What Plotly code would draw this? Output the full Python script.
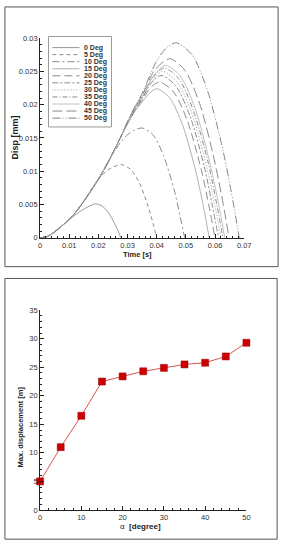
import plotly.graph_objects as go

W, H = 288, 553
FONT = "Liberation Sans, Arial, sans-serif"

# ---------------- data: top panel (Disp [mm] vs Time [s]) ----------------
legend_labels = ["0 Deg", "5 Deg", "10 Deg", "15 Deg", "20 Deg", "25 Deg",
                 "30 Deg", "35 Deg", "40 Deg", "45 Deg", "50 Deg"]

t_0deg = [0, 0.0025, 0.005, 0.0075, 0.01, 0.0125, 0.015, 0.017, 0.019, 0.0212, 0.0234, 0.0255, 0.0268, 0.0277]
d_0deg = [0, 0.0002, 0.0009, 0.0018, 0.0027, 0.0036, 0.0043, 0.0048, 0.0051, 0.0048, 0.0038, 0.0022, 0.0010, 0]

t_5deg = [0, 0.0025, 0.005, 0.0075, 0.01, 0.0125, 0.015, 0.018, 0.021, 0.024, 0.026, 0.028, 0.031, 0.034, 0.037, 0.0388, 0.040]
d_5deg = [0, 0.0002, 0.0009, 0.0018, 0.0028, 0.0040, 0.0055, 0.0076, 0.0093, 0.0104, 0.0108, 0.0110, 0.0103, 0.0083, 0.0048, 0.0021, 0]

t_10deg = [0, 0.0025, 0.005, 0.0075, 0.01, 0.0125, 0.015, 0.0175, 0.02, 0.0225, 0.025, 0.0275, 0.03, 0.0325, 0.035, 0.0387, 0.0423, 0.046, 0.0481, 0.0496]
d_10deg = [0, 0.0002, 0.0009, 0.0018, 0.0028, 0.0040, 0.0055, 0.0071, 0.0088, 0.0107, 0.0126, 0.0143, 0.0155, 0.0162, 0.0165, 0.0155, 0.0124, 0.0072, 0.0031, 0]

t_15deg = [0, 0.0025, 0.005, 0.0075, 0.01, 0.0125, 0.015, 0.0175, 0.02, 0.0225, 0.025, 0.0275, 0.03, 0.0325, 0.035, 0.0375, 0.040, 0.0445, 0.049, 0.0535, 0.0562, 0.058]
d_15deg = [0, 0.0002, 0.0009, 0.0018, 0.0028, 0.0040, 0.0055, 0.0071, 0.0088, 0.0107, 0.0128, 0.0150, 0.0171, 0.0190, 0.0204, 0.0217, 0.0224, 0.0210, 0.0168, 0.0098, 0.0043, 0]

t_20deg = [0, 0.0025, 0.005, 0.0075, 0.01, 0.0125, 0.015, 0.0175, 0.02, 0.0225, 0.025, 0.0275, 0.03, 0.0325, 0.035, 0.038, 0.041, 0.0458, 0.0505, 0.0553, 0.0581, 0.060]
d_20deg = [0, 0.0002, 0.0009, 0.0018, 0.0028, 0.0040, 0.0055, 0.0071, 0.0088, 0.0107, 0.0128, 0.0150, 0.0172, 0.0191, 0.0207, 0.0226, 0.0234, 0.0219, 0.0176, 0.0102, 0.0044, 0]

t_25deg = [0, 0.0025, 0.005, 0.0075, 0.01, 0.0125, 0.015, 0.0175, 0.02, 0.0225, 0.025, 0.0275, 0.03, 0.0325, 0.035, 0.038, 0.0415, 0.0464, 0.0514, 0.0563, 0.0592, 0.0612]
d_25deg = [0, 0.0002, 0.0009, 0.0018, 0.0028, 0.0040, 0.0055, 0.0071, 0.0088, 0.0107, 0.0128, 0.0150, 0.0172, 0.0192, 0.0209, 0.0232, 0.0244, 0.0229, 0.0183, 0.0107, 0.0046, 0]

t_30deg = [0, 0.0025, 0.005, 0.0075, 0.01, 0.0125, 0.015, 0.0175, 0.02, 0.0225, 0.025, 0.0275, 0.03, 0.0325, 0.035, 0.0385, 0.042, 0.047, 0.052, 0.057, 0.060, 0.062]
d_30deg = [0, 0.0002, 0.0009, 0.0018, 0.0028, 0.0040, 0.0055, 0.0071, 0.0088, 0.0107, 0.0128, 0.0150, 0.0172, 0.0193, 0.0210, 0.0236, 0.0250, 0.0234, 0.0188, 0.0109, 0.0048, 0]

t_35deg = [0, 0.0025, 0.005, 0.0075, 0.01, 0.0125, 0.015, 0.0175, 0.02, 0.0225, 0.025, 0.0275, 0.03, 0.0325, 0.035, 0.0385, 0.0425, 0.0476, 0.0526, 0.0577, 0.0607, 0.0627]
d_35deg = [0, 0.0002, 0.0009, 0.0018, 0.0028, 0.0040, 0.0055, 0.0071, 0.0088, 0.0107, 0.0128, 0.0150, 0.0173, 0.0194, 0.0211, 0.0240, 0.0255, 0.0239, 0.0191, 0.0112, 0.0048, 0]

t_40deg = [0, 0.0025, 0.005, 0.0075, 0.01, 0.0125, 0.015, 0.0175, 0.02, 0.0225, 0.025, 0.0275, 0.03, 0.0325, 0.035, 0.039, 0.043, 0.0481, 0.0532, 0.0582, 0.0613, 0.0633]
d_40deg = [0, 0.0002, 0.0009, 0.0018, 0.0028, 0.0040, 0.0055, 0.0071, 0.0088, 0.0107, 0.0128, 0.0150, 0.0173, 0.0195, 0.0212, 0.0244, 0.0259, 0.0243, 0.0194, 0.0113, 0.0049, 0]

t_45deg = [0, 0.0025, 0.005, 0.0075, 0.01, 0.0125, 0.015, 0.0175, 0.02, 0.0225, 0.025, 0.0275, 0.03, 0.0325, 0.035, 0.0395, 0.0445, 0.0496, 0.0547, 0.0597, 0.0628, 0.0648]
d_45deg = [0, 0.0002, 0.0009, 0.0018, 0.0028, 0.0040, 0.0055, 0.0071, 0.0088, 0.0107, 0.0128, 0.0150, 0.0174, 0.0196, 0.0214, 0.0253, 0.0269, 0.0252, 0.0202, 0.0118, 0.0051, 0]

t_50deg = [0, 0.0025, 0.005, 0.0075, 0.01, 0.0125, 0.015, 0.0175, 0.02, 0.0225, 0.025, 0.0275, 0.03, 0.0325, 0.035, 0.040, 0.0435, 0.0467, 0.0521, 0.0575, 0.0629, 0.0661, 0.0683]
d_50deg = [0, 0.0002, 0.0009, 0.0018, 0.0028, 0.0040, 0.0055, 0.0071, 0.0088, 0.0107, 0.0128, 0.0150, 0.0175, 0.0197, 0.0217, 0.0266, 0.0286, 0.0293, 0.0275, 0.0220, 0.0128, 0.0056, 0]

series_t = [t_0deg, t_5deg, t_10deg, t_15deg, t_20deg, t_25deg, t_30deg, t_35deg, t_40deg, t_45deg, t_50deg]
series_d = [d_0deg, d_5deg, d_10deg, d_15deg, d_20deg, d_25deg, d_30deg, d_35deg, d_40deg, d_45deg, d_50deg]

# ---------------- data: bottom panel (Max displacement vs alpha) ----------------
alpha_deg = [0, 5, 10, 15, 20, 25, 30, 35, 40, 45, 50]
max_disp = [5.0, 11.0, 16.5, 22.5, 23.4, 24.3, 24.9, 25.5, 25.8, 26.9, 29.3]

# ---------------- styles ----------------
line_colors = ["#9a9a9a", "#8a8a8a", "#8a8a8a", "#b0b0b0", "#8c8c8c", "#8c8c8c",
               "#9a9a9a", "#8c8c8c", "#c0c0c0", "#8a8a8a", "#858585"]
line_dashes = ["solid", "4px,3px", "7px,3px,2px,3px", "solid", "8px,4px", "6px,2px,2px,2px",
               "1px,2px", "5px,2px,1px,2px", "solid", "10px,4px", "8px,2px,1px,2px,1px,2px"]


def px(x):
    return x / W


def py(y):
    return 1 - y / H


fig = go.Figure()

for t, d, name, c, dash in zip(series_t, series_d, legend_labels, line_colors, line_dashes):
    fig.add_trace(go.Scatter(x=t, y=d, mode="lines", name=name, showlegend=False,
                             line=dict(color=c, width=1, dash=dash, shape="spline", smoothing=0.8),
                             xaxis="x", yaxis="y"))

fig.add_trace(go.Scatter(x=alpha_deg, y=max_disp, mode="lines+markers", showlegend=False,
                         line=dict(color="#d45555", width=1),
                         marker=dict(symbol="square", size=7, color="#cc0000",
                                     line=dict(color="#990000", width=0.5)),
                         cliponaxis=False, xaxis="x2", yaxis="y2"))

axis_common = dict(showgrid=False, zeroline=False, showline=True, linecolor="#222", linewidth=1,
                   ticks="inside", ticklen=4, tickwidth=1, tickcolor="#222",
                   tickfont=dict(family=FONT, size=7.5, color="#333"))

fig.update_layout(
    width=W, height=H, margin=dict(l=0, r=0, t=0, b=0),
    paper_bgcolor="white", plot_bgcolor="white",
    font=dict(family=FONT),
    xaxis=dict(domain=[px(39.3), px(250)], range=[0, 0.07], dtick=0.01, tick0=0, anchor="y",
               minor=dict(ticks="inside", ticklen=2, dtick=0.002, tickcolor="#222"), **axis_common),
    yaxis=dict(domain=[py(237.7), py(34.7)], range=[0, 0.03], dtick=0.005, tick0=0, anchor="x",
               minor=dict(ticks="inside", ticklen=2, dtick=0.001, tickcolor="#222"), **axis_common),
    xaxis2=dict(domain=[px(39.3), px(252.3)], range=[0, 50], dtick=10, tick0=0, anchor="y2",
                minor=dict(ticks="inside", ticklen=2, dtick=2, tickcolor="#222"), **axis_common),
    yaxis2=dict(domain=[py(514.3), py(311.3)], range=[0, 35], dtick=5, tick0=0, anchor="x2",
                minor=dict(ticks="inside", ticklen=2, dtick=1, tickcolor="#222"), **axis_common),
)

shapes = []
annotations = []

# panel frames
shapes.append(dict(type="rect", xref="paper", yref="paper", x0=px(3), x1=px(285), y0=py(267), y1=py(3),
                   line=dict(color="#555", width=1)))
shapes.append(dict(type="rect", xref="paper", yref="paper", x0=px(3), x1=px(284), y0=py(544), y1=py(279),
                   line=dict(color="#555", width=1)))

# custom compact legend for the top panel
shapes.append(dict(type="rect", xref="paper", yref="paper", x0=px(48), x1=px(113), y0=py(125), y1=py(33),
                   line=dict(color="#999", width=1), fillcolor="white"))
for i, (name, c, dash) in enumerate(zip(legend_labels, line_colors, line_dashes)):
    yc = 44.3 + i * 7.17
    shapes.append(dict(type="line", xref="paper", yref="paper", x0=px(52), x1=px(80), y0=py(yc), y1=py(yc),
                       line=dict(color=c, width=1, dash=dash)))
    annotations.append(dict(text="<b>%s</b>" % name, xref="paper", yref="paper", x=px(83), y=py(yc),
                            xanchor="left", yanchor="middle", showarrow=False,
                            font=dict(family=FONT, size=7, color="#333")))

# axis titles
annotations.append(dict(text="<b>Time [s]</b>", xref="paper", yref="paper", x=px(140), y=py(254.5),
                        xanchor="center", yanchor="middle", showarrow=False,
                        font=dict(family=FONT, size=7.5, color="#222")))
annotations.append(dict(text="<b>Disp [mm]</b>", xref="paper", yref="paper", x=px(13), y=py(136),
                        xanchor="center", yanchor="middle", showarrow=False, textangle=-90,
                        font=dict(family=FONT, size=9, color="#222")))
annotations.append(dict(text="α  <b>[degree]</b>", xref="paper", yref="paper", x=px(143), y=py(531),
                        xanchor="center", yanchor="middle", showarrow=False,
                        font=dict(family=FONT, size=8, color="#222")))
annotations.append(dict(text="<b>Max. displacement [m]</b>", xref="paper", yref="paper", x=px(19), y=py(430),
                        xanchor="center", yanchor="middle", showarrow=False, textangle=-90,
                        font=dict(family=FONT, size=7.5, color="#222")))

fig.update_layout(shapes=shapes, annotations=annotations)

fig.write_html("out.html")
